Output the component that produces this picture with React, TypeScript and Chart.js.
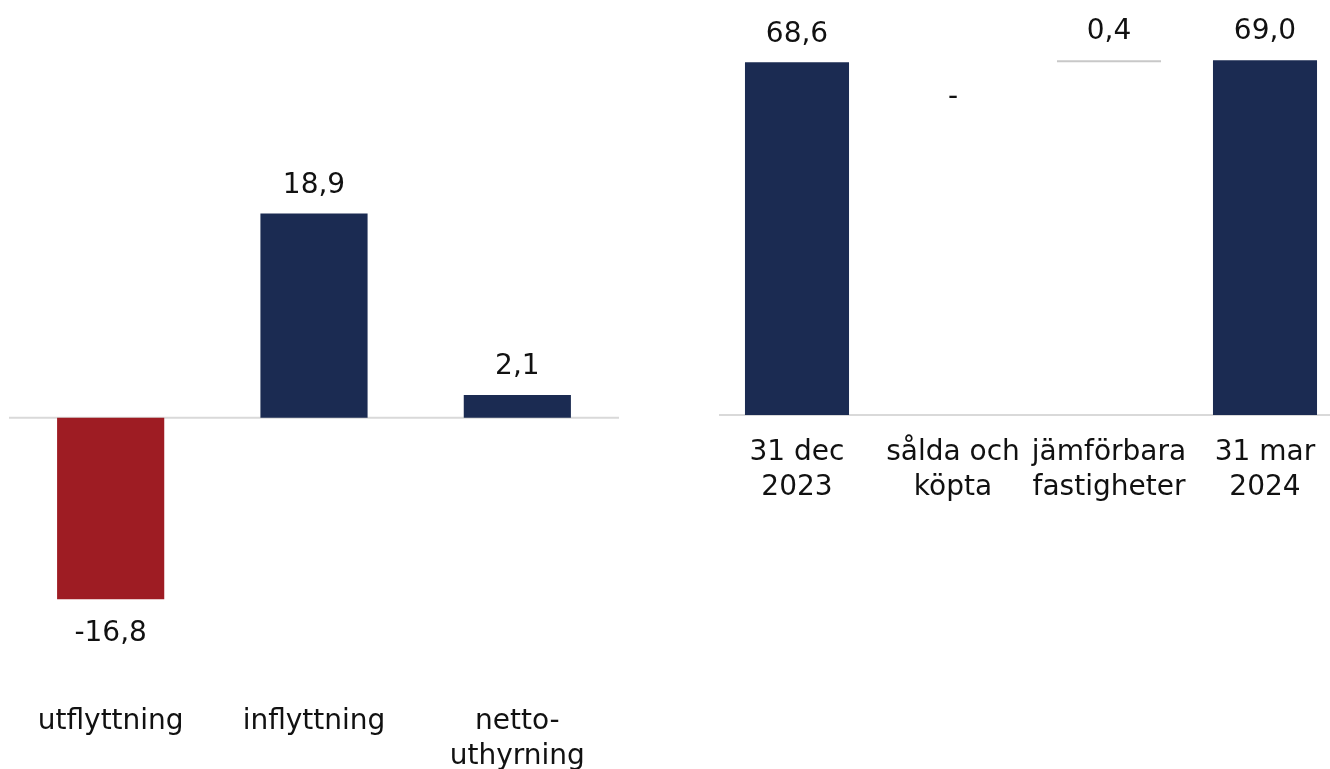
import React, { useEffect, useRef } from "react";
import { Chart, registerables } from "chart.js";

Chart.register(...registerables);

// ---- Data ----
const leftCategories = [["utflyttning"], ["inflyttning"], ["netto-", "uthyrning"]];
const leftValues = [-16.8, 18.9, 2.1];
const leftColors = ["#9e1c23", "#1b2b52", "#1b2b52"];

const rightCategories = [["31 dec", "2023"], ["sålda och", "köpta"], ["jämförbara", "fastigheter"], ["31 mar", "2024"]];
const rightValues = [68.6, 0, 0.4, 69.0];
const rightKinds = ["total", "delta", "delta", "total"];
const rightColors = ["#1b2b52", "rgba(0,0,0,0)", "#c8c8c8", "#1b2b52"];

const FONT = "DejaVu Sans";
const FONT_SIZE = 28;

const fmt = (v: number) => (v === 0 ? "-" : v.toFixed(1).replace(".", ","));

// build floating bars for the waterfall
const rightFloating: [number, number][] = (() => {
  let run = 0;
  return rightValues.map((v, i) => {
    if (rightKinds[i] === "total") {
      run = v;
      return [0, v] as [number, number];
    }
    const start = run;
    run = run + v;
    return [start, run] as [number, number];
  });
})();

const zeroLinePlugin = {
  id: "zeroLine",
  beforeDatasetsDraw(chart: any) {
    const { ctx, chartArea, scales } = chart;
    const y = scales.y.getPixelForValue(0);
    ctx.save();
    ctx.strokeStyle = "#d9d9d9";
    ctx.lineWidth = 2;
    ctx.beginPath();
    ctx.moveTo(chartArea.left, y);
    ctx.lineTo(chartArea.right, y);
    ctx.stroke();
    ctx.restore();
  },
};

const valueLabelPlugin = {
  id: "valueLabels",
  afterDatasetsDraw(chart: any, _args: any, opts: any) {
    const { ctx } = chart;
    const meta = chart.getDatasetMeta(0);
    const labels: string[] = opts.labels || [];
    const below: boolean[] = opts.below || [];
    ctx.save();
    ctx.font = `${FONT_SIZE}px "${FONT}"`;
    ctx.fillStyle = "#111111";
    ctx.textAlign = "center";
    ctx.textBaseline = "middle";
    meta.data.forEach((el: any, i: number) => {
      const p = el.getProps(["x", "y", "base"], true);
      const top = Math.min(p.y, p.base);
      const bottom = Math.max(p.y, p.base);
      const ty = below[i] ? bottom + 35 : top - 28;
      ctx.fillText(labels[i], p.x, ty);
    });
    ctx.restore();
  },
};

function ChartCanvas({ config, width, height }: { config: any; width: number; height: number }) {
  const ref = useRef<HTMLCanvasElement | null>(null);
  useEffect(() => {
    if (!ref.current) return;
    const chart = new Chart(ref.current, config);
    return () => chart.destroy();
  }, []);
  return <canvas ref={ref} width={width} height={height} style={{ width, height, display: "block" }} />;
}

const xAxis = {
  display: true,
  grid: { display: false, drawTicks: false },
  border: { display: false },
  ticks: {
    color: "#111111",
    font: { family: FONT, size: FONT_SIZE, lineHeight: 1.25 },
    padding: 20,
    maxRotation: 0,
    minRotation: 0,
    autoSkip: false,
  },
};

const leftConfig = {
  type: "bar",
  data: {
    labels: leftCategories,
    datasets: [
      {
        data: leftValues,
        backgroundColor: leftColors,
        borderWidth: 0,
        barPercentage: 0.527,
        categoryPercentage: 1,
      },
    ],
  },
  options: {
    responsive: false,
    animation: false,
    layout: { padding: 0 },
    plugins: {
      legend: { display: false },
      tooltip: { enabled: false },
      valueLabels: {
        labels: leftValues.map(fmt),
        below: leftValues.map((v) => v <= 0),
      },
    },
    scales: {
      x: xAxis,
      y: { display: false, min: -24.65, max: 38.65 },
    },
  },
  plugins: [zeroLinePlugin, valueLabelPlugin],
};

const rightConfig = {
  type: "bar",
  data: {
    labels: rightCategories,
    datasets: [
      {
        data: rightFloating,
        backgroundColor: rightColors,
        borderWidth: 0,
        barPercentage: 0.667,
        categoryPercentage: 1,
      },
    ],
  },
  options: {
    responsive: false,
    animation: false,
    layout: { padding: 0 },
    plugins: {
      legend: { display: false },
      tooltip: { enabled: false },
      valueLabels: {
        labels: rightValues.map(fmt),
        below: rightValues.map((v) => v === 0),
      },
    },
    scales: {
      x: xAxis,
      y: { display: false, min: 0, max: 80.7 },
    },
  },
  plugins: [zeroLinePlugin, valueLabelPlugin],
};

export default function App() {
  return (
    <div
      style={{
        position: "fixed",
        left: 0,
        top: 0,
        width: 1330,
        height: 769,
        overflow: "hidden",
        background: "#ffffff",
      }}
    >
      <div style={{ position: "absolute", left: 9, top: 0 }}>
        <ChartCanvas config={leftConfig} width={610} height={794} />
      </div>
      <div style={{ position: "absolute", left: 719, top: 0 }}>
        <ChartCanvas config={rightConfig} width={624} height={525} />
      </div>
    </div>
  );
}
